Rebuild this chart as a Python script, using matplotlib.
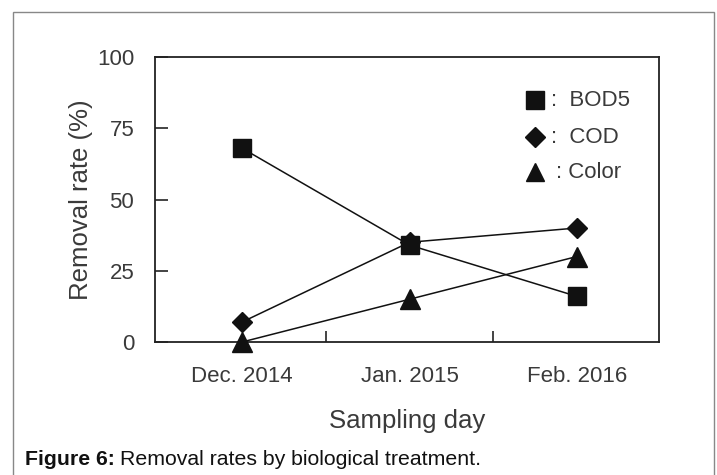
import matplotlib.pyplot as plt
import matplotlib.patches as mpatches

# Data
days = ['Dec. 2014', 'Jan. 2015', 'Feb. 2016']
bod5 = [68, 34, 16]
cod = [7, 35, 40]
color = [0, 15, 30]

ink = '#111111'
label_gray = '#3a3a3a'

fig = plt.figure(figsize=(7.17, 4.75), dpi=100, facecolor='white')
plt.rcParams['font.family'] = ['Liberation Sans', 'DejaVu Sans']

# outer gray frame
fig.patches.append(mpatches.Rectangle((13 / 717, -0.01), 701 / 717, 1 - 12 / 475 + 0.01,
                                      transform=fig.transFigure, fill=False,
                                      edgecolor='#888888', linewidth=1.0))

ax = fig.add_axes([155 / 717, 133 / 475, 504 / 717, 285 / 475])

x = list(range(len(days)))
ax.plot(x, bod5, color=ink, linewidth=1.1, marker='s', markersize=13.5, zorder=3)
ax.plot(x, cod, color=ink, linewidth=1.1, marker='D', markersize=10, zorder=3)
ax.plot(x, color, color=ink, linewidth=1.1, marker='^', markersize=14, zorder=3,
        clip_on=False)

ax.set_xlim(-0.52, 2.49)
ax.set_ylim(0, 100)
ax.set_yticks([0, 25, 50, 75, 100])
ax.set_xticks([0.5, 1.5])
ax.set_xticklabels(['', ''])
ax.set_xticks(x, minor=True)
ax.set_xticklabels(days, minor=True)
ax.tick_params(axis='x', which='minor', length=0, pad=17, labelsize=16, labelcolor=label_gray)
ax.tick_params(axis='x', which='major', direction='in', length=8, width=1.1, color=ink)
ax.tick_params(axis='y', direction='in', length=9, width=1.1, color=ink, pad=15,
               labelsize=16, labelcolor=label_gray)
for s in ax.spines.values():
    s.set_linewidth(1.3)
    s.set_color('#222222')

ax.set_ylabel('Removal rate (%)', fontsize=18.5, color=label_gray, labelpad=3)
ax.set_xlabel('Sampling day', fontsize=18.5, color=label_gray, labelpad=16)

# legend drawn by hand, as in the original figure
leg_y = [0.849, 0.719, 0.596]
leg_items = [('s', 13, 0.785, ':  BOD5'), ('D', 10, 0.785, ':  COD'), ('^', 13, 0.795, ': Color')]
for yy, (m, ms, tx, txt) in zip(leg_y, leg_items):
    ax.plot([0.754], [yy], marker=m, markersize=ms, color=ink, transform=ax.transAxes,
            linestyle='none')
    ax.text(tx, yy, txt, transform=ax.transAxes, fontsize=16, color=label_gray,
            va='center', ha='left')

# caption
fig.text(25 / 717, 1 - 465 / 475, 'Figure 6:', fontsize=15.3, fontweight='bold',
         color='#111111', va='baseline', ha='left')
fig.text(120 / 717, 1 - 465 / 475, 'Removal rates by biological treatment.', fontsize=15.3,
         color='#111111', va='baseline', ha='left')

fig.savefig('out.png', dpi=100, facecolor='white')
